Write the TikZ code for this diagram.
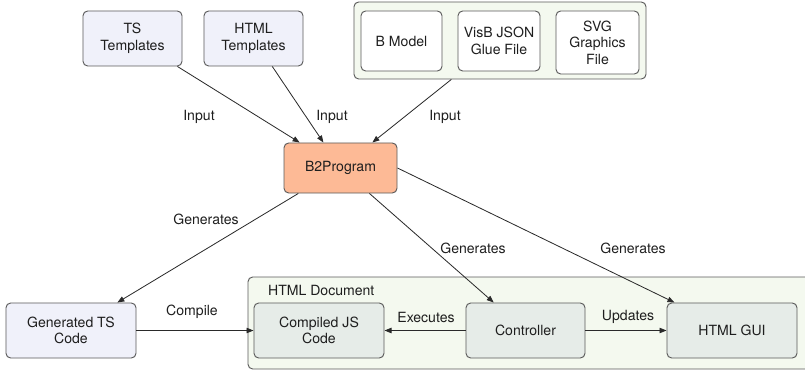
\documentclass[tikz,border=0pt]{standalone}
\usepackage{fontspec}
\setmainfont{TeX Gyre Heros}
\usepackage{xcolor}
\usetikzlibrary{arrows.meta}

\definecolor{inputfill}{HTML}{F0F1FA}
\definecolor{progfill}{HTML}{FDBA96}
\definecolor{groupfill}{HTML}{F4F9EF}
\definecolor{docfill}{HTML}{E6ECE8}
\definecolor{boxline}{HTML}{5A5A5A}
\definecolor{arrowcol}{HTML}{2A2A2A}
\definecolor{textcol}{HTML}{1E1E1E}

\begin{document}
\begin{tikzpicture}[x=0.03cm, y=-0.03cm,
  font=\fontsize{12}{14.2}\selectfont,
  box/.style={draw=boxline, line width=0.8pt, rounded corners=4pt, align=center,
    inner sep=0pt, text=textcol},
  inbox/.style={box, fill=inputfill, minimum width=2.97cm, minimum height=1.65cm},
  filebox/.style={box, fill=white, minimum height=1.8cm},
  progbox/.style={box, fill=progfill, minimum width=3.39cm, minimum height=1.5cm},
  docbox/.style={box, fill=docfill, minimum height=1.65cm},
  flow/.style={draw=arrowcol, line width=0.7pt, -{Triangle[length=6pt,width=4.6pt]}},
  lbl/.style={text=textcol}]

\clip (0,0) rectangle (805,370);

% inputs
\node[inbox] (tstpl) at (132.5,38.5) {TS\\Templates};
\node[inbox] (htmltpl) at (253.5,38.5) {HTML\\Templates};

\node[box, fill=groupfill, minimum width=8.76cm, minimum height=2.31cm] (model) at (500,40.5) {};
\node[filebox, minimum width=2.43cm] (bmodel) at (401.5,41) {B Model};
\node[filebox, minimum width=2.46cm] (visb) at (499,41) {VisB JSON\\Glue File};
\node[filebox, minimum width=2.49cm, minimum height=1.89cm] (svg) at (597.5,42.5) {SVG\\Graphics\\File};

% generator
\node[progbox] (b2p) at (340.5,168) {B2Program};

\node[docbox, fill=inputfill, minimum width=3.9cm] (gents) at (71,330.5) {Generated TS\\Code};

% html document
\draw[draw=boxline, line width=0.8pt, rounded corners=4pt, fill=groupfill] (248,277) rectangle (815,369);
\node[lbl, anchor=west] (htmldoc) at (264,290) {HTML Document};

\node[docbox, minimum width=3.9cm] (cjs) at (319,330.5) {Compiled JS\\Code};
\node[docbox, minimum width=3.57cm] (ctrl) at (525.5,330.5) {Controller};
\node[docbox, minimum width=3.9cm] (gui) at (732,330.5) {HTML GUI};

% connectors
\draw[flow] (tstpl) -- (b2p);
\draw[flow] (htmltpl) -- (b2p);
\draw[flow] (model) -- (b2p);
\draw[flow] (b2p) -- (gents);
\draw[flow] (b2p) -- (ctrl);
\draw[flow] (b2p.east) -- (gui);
\draw[flow] (gents) -- (cjs);
\draw[flow] (ctrl) -- (cjs);
\draw[flow] (ctrl) -- (gui);

% labels
\node[lbl] (in1) at (199,117) {Input};
\node[lbl] (in2) at (332,117) {Input};
\node[lbl] (in3) at (445,117) {Input};
\node[lbl] (gen1) at (206,219) {Generates};
\node[lbl] (gen2) at (473,248) {Generates};
\node[lbl] (gen3) at (633,248) {Generates};
\node[lbl] (comp) at (192,312) {Compile};
\node[lbl] (exec) at (426,317) {Executes};
\node[lbl] (upd) at (628,317) {Updates};

\end{tikzpicture}
\end{document}
